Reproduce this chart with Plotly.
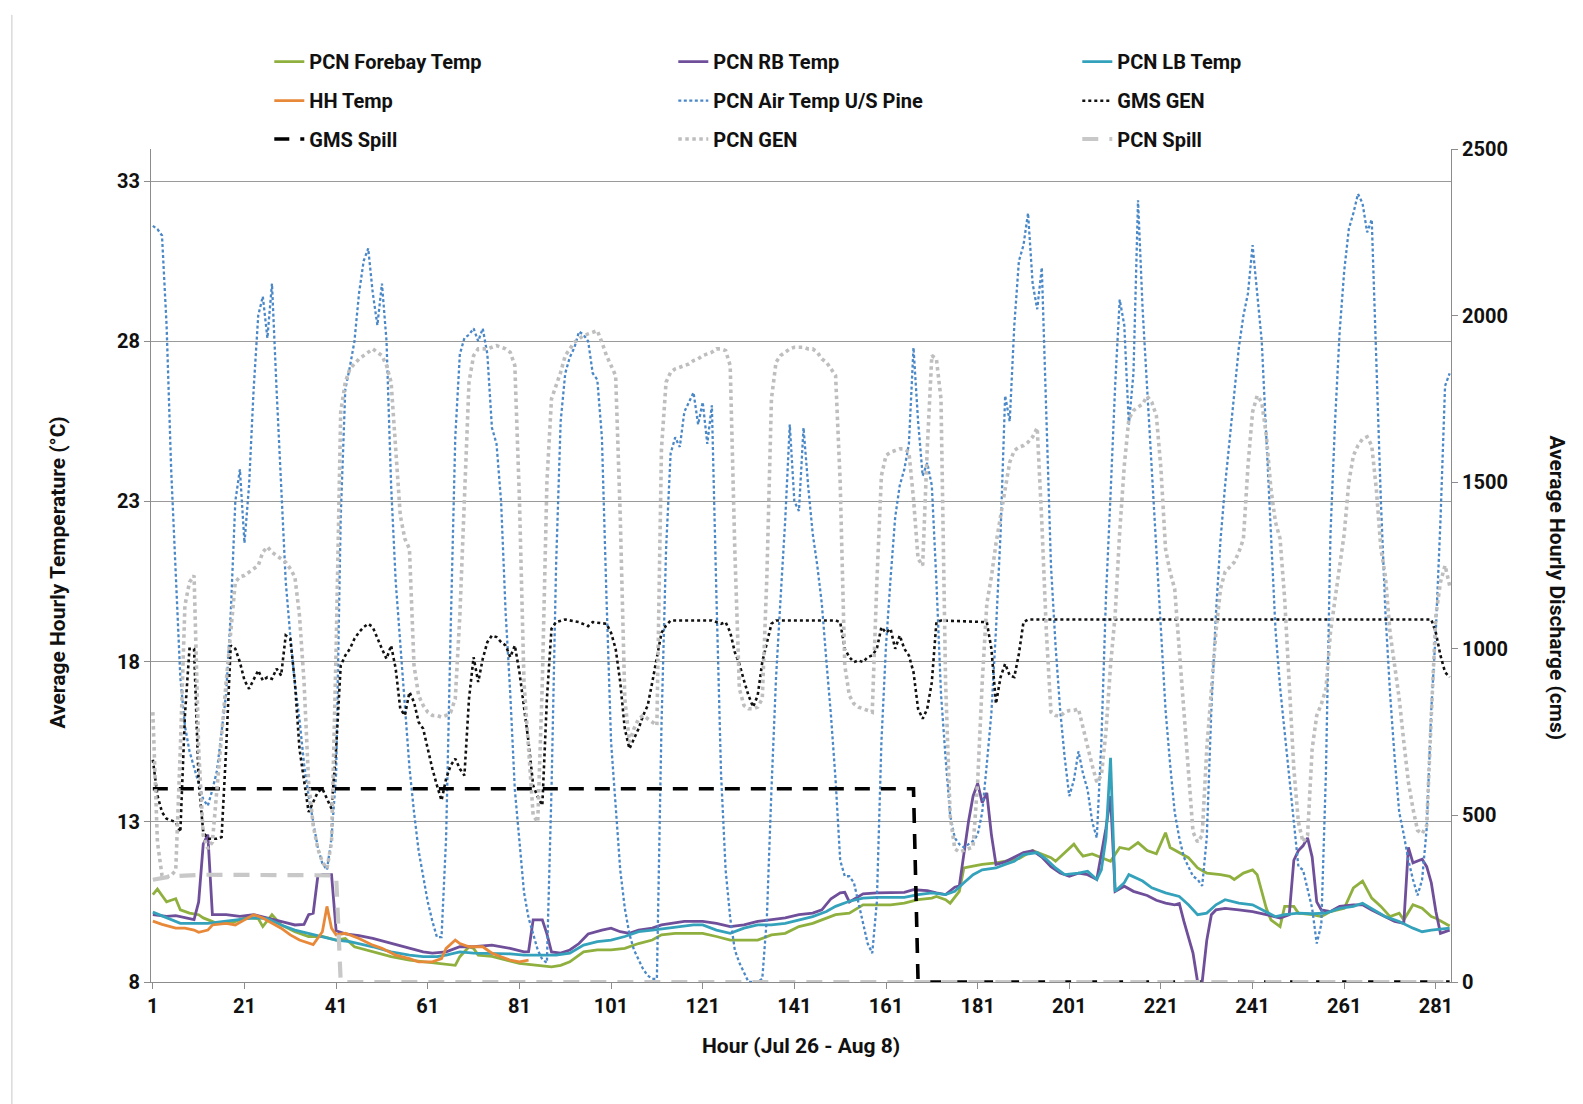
import plotly.graph_objects as go

# ---------------- data ----------------
hours = list(range(1, 285))

air_temp = [
    31.6, 31.5, 31.3, 28.5, 24.0, 20.5, 17.5, 16.0, 15.2, 14.7,
    14.2, 13.7, 13.5, 14.0, 14.6, 15.9, 17.0, 19.5, 23.0, 24.0,
    21.7, 23.5, 26.5, 28.8, 29.4, 28.1, 29.8, 26.5, 23.5, 20.5,
    18.8, 17.3, 16.2, 14.8, 13.8, 13.0, 12.2, 11.7, 11.5, 12.5,
    14.5, 22.5, 26.5, 27.2, 28.0, 29.5, 30.5, 30.9, 29.5, 28.5,
    29.8, 28.0, 23.5, 20.5, 18.5, 16.5, 14.7, 13.3, 12.1, 11.3,
    10.5, 9.9, 9.4, 9.4, 12.5, 19.0, 25.0, 27.6, 28.1, 28.2,
    28.4, 28.0, 28.4, 27.6, 25.3, 24.8, 23.0, 19.5, 17.0, 14.0,
    12.3, 10.8, 10.0, 9.5, 9.0, 8.7, 8.6, 14.0, 21.0, 25.5,
    27.0, 27.5, 27.8, 28.3, 28.2, 28.0, 27.0, 26.8, 25.0, 20.0,
    15.5, 13.5, 11.5, 10.3, 9.5, 9.0, 8.7, 8.4, 8.2, 8.1,
    8.1, 16.0, 21.5, 24.5, 25.0, 24.7, 25.8, 26.1, 26.4, 25.4,
    26.1, 24.8, 26.0, 20.0, 14.5, 11.5, 10.0, 9.0, 8.6, 8.3,
    8.0, 8.0, 8.0, 8.1, 10.0, 14.0, 17.5, 20.0, 22.4, 25.4,
    23.0, 22.7, 25.3, 23.5, 22.0, 21.0, 19.8, 18.0, 16.3, 14.3,
    11.8, 11.3, 11.3, 11.1, 10.5, 9.8, 9.2, 8.9, 10.5, 15.5,
    18.5, 20.6, 22.5, 23.5, 24.0, 24.8, 27.8, 25.5, 23.8, 24.2,
    23.5, 20.5, 17.0, 15.0, 13.2, 12.5, 12.3, 12.2, 12.3, 12.4,
    12.6, 13.3, 14.8, 16.4, 19.0, 22.0, 26.3, 25.5, 28.5, 30.5,
    31.0, 32.0, 29.8, 29.0, 30.3, 25.5, 21.0, 18.5, 16.5, 15.0,
    13.8, 14.3, 15.2, 14.5, 14.0, 13.0, 12.5, 15.5, 20.0, 23.2,
    26.6, 29.3, 28.5, 25.4, 27.0, 32.4, 29.0, 26.5, 24.0, 21.5,
    19.0, 16.5, 14.8, 13.3, 12.5, 11.9, 11.6, 11.3, 11.2, 11.0,
    12.5, 16.5, 19.5, 21.8, 23.5, 25.0, 26.4, 27.8, 28.8, 29.5,
    31.0, 29.5, 28.0, 25.0, 22.0, 19.0, 17.2, 15.8, 14.3, 12.8,
    11.6, 11.5, 10.9, 10.3, 9.2, 9.8, 14.5, 22.0, 25.5, 28.3,
    30.2, 31.5, 32.0, 32.6, 32.3, 31.4, 31.8, 27.5, 23.0, 19.5,
    17.0, 15.0, 13.3, 12.6, 11.8, 11.2, 10.7, 11.2, 12.8, 16.5,
    19.0, 22.4, 26.6, 27.0,
]

pcn_gen = [
    810, 420, 320, 315, 320, 335, 700, 1130, 1200, 1220,
    700, 440, 400, 420, 580, 750, 900, 1050, 1200, 1216,
    1220, 1230, 1240, 1250, 1290, 1306, 1290, 1280, 1270, 1260,
    1240, 1216, 1100, 900, 600, 470, 400, 360, 340, 420,
    1000, 1711, 1800, 1840, 1855, 1870, 1880, 1890, 1900, 1890,
    1880, 1850, 1800, 1600, 1400, 1330, 1300, 950, 860, 830,
    810, 800, 800, 795, 800, 810, 850, 1100, 1450, 1800,
    1880, 1900, 1900, 1900, 1905, 1910, 1905, 1900, 1890, 1850,
    1450, 900, 700, 500, 480, 900, 1500, 1750, 1790, 1830,
    1880, 1900, 1920, 1930, 1940, 1945, 1950, 1955, 1920, 1880,
    1850, 1820, 1400, 850, 720, 760, 790, 800, 790, 780,
    770, 1600, 1800, 1830, 1840, 1845, 1850, 1855, 1865, 1870,
    1880, 1885, 1890, 1900, 1900, 1895, 1850, 1300, 880, 830,
    820, 820, 825, 850, 1216, 1750, 1860, 1880, 1890, 1900,
    1905, 1905, 1905, 1900, 1900, 1890, 1870, 1860, 1840, 1820,
    1500, 950, 860, 835, 825, 820, 815, 810, 1200, 1520,
    1580, 1590, 1595, 1600, 1600, 1590, 1450, 1270, 1250, 1600,
    1880, 1870, 1750, 900, 500, 400, 390, 395, 400, 405,
    600, 900, 1135, 1216, 1316, 1400, 1480, 1560, 1595, 1605,
    1610, 1620, 1636, 1663, 1380, 1050, 810, 800, 798, 810,
    815, 815, 820, 760, 700, 650, 600, 620, 750, 950,
    1100, 1350, 1550, 1690, 1715, 1725, 1735, 1758, 1740, 1700,
    1540, 1300, 1230, 1180, 1000, 800, 640, 450, 420, 440,
    700, 880, 1050, 1180, 1231, 1245, 1260, 1290, 1330, 1550,
    1711, 1760, 1740, 1640, 1480, 1380, 1330, 1150, 900, 640,
    480, 420, 440, 700, 800, 834, 880, 1050, 1150, 1250,
    1345, 1500, 1580, 1610, 1630, 1636, 1610, 1480, 1300, 1216,
    1048, 950, 850, 721, 600, 520, 455, 445, 470, 800,
    1100, 1200, 1250, 1190,
]

gms_gen_hours = [
    1, 2, 3, 4, 5, 6, 7, 8, 9, 10, 11, 12, 13, 15, 16, 17, 18, 19, 20,
    21, 22, 23, 24, 25, 26, 27, 28, 29, 30, 31, 32, 33, 34, 35, 36, 37, 38, 39, 40,
    41, 42, 43, 44, 45, 46, 47, 48, 49, 50, 51, 52, 53, 54, 55, 56, 57, 58, 59, 60,
    61, 62, 63, 64, 65, 66, 67, 68, 69, 70, 71, 72, 73, 74, 75, 76, 77, 78, 79, 80,
    81, 82, 83, 84, 85, 86, 87, 88, 89, 91, 94, 96, 97, 100,
    101, 102, 103, 104, 105, 106, 107, 108, 109, 110, 111, 112, 113, 114,
    123, 124, 125, 126, 127, 128, 129, 130, 131, 132, 133, 134, 135, 136, 137,
    150, 151, 152, 153, 154, 155, 156, 157, 158, 159, 160,
    161, 162, 163, 164, 165, 166, 167, 168, 169, 170, 171, 172, 173,
    183, 184, 185, 186, 187, 188, 189, 190, 191, 192,
    280, 281, 282, 283, 284,
]
gms_gen = [
    667, 560, 510, 490, 485, 480, 450, 800, 1000, 1000, 600, 450, 430, 430, 435, 700, 1010, 1000, 960,
    905, 880, 910, 935, 905, 915, 910, 940, 920, 1040, 1030, 900, 700, 600, 510, 540, 570, 580, 550, 520,
    700, 950, 980, 1000, 1030, 1050, 1065, 1075, 1065, 1030, 1000, 970, 1010, 940, 820, 800, 870, 840, 780, 760,
    700, 640, 590, 545, 610, 650, 670, 640, 620, 850, 975, 900, 970, 1020, 1040, 1035, 1020, 1010, 975, 1010,
    930, 830, 720, 590, 555, 530, 850, 1060, 1080, 1088, 1080, 1068, 1080, 1075,
    1048, 1000, 900, 760, 700, 730, 760, 800, 830, 900, 975, 1048, 1070, 1085,
    1085, 1080, 1075, 1080, 1050, 990, 955, 905, 860, 825, 860, 960, 1020, 1075, 1085,
    1085, 1080, 1000, 975, 960, 965, 960, 975, 980, 1000, 1065,
    1048, 1060, 1000, 1040, 1000, 980, 930, 820, 790, 820, 900, 1080, 1085,
    1080, 1000, 835, 915, 955, 920, 915, 985, 1080, 1088,
    1088, 1048, 980, 930, 915,
]

gms_spill_hours = [1, 167, 168, 284]
gms_spill = [580, 580, 0, 0]

pcn_spill_hours = [1, 5, 12, 40, 41, 42, 284]
pcn_spill = [307, 317, 322, 322, 320, 0, 0]

forebay_hours = [
    1, 2, 3, 4, 5, 6, 7, 9, 11, 12, 15, 18, 21, 24, 25, 27, 29, 32, 35, 38,
    41, 43, 45, 49, 53, 57, 60, 64, 67, 68, 70, 71, 72, 75, 78, 81, 85, 88, 90, 92,
    95, 98, 101, 104, 107, 110, 112, 115, 118, 121, 124, 127, 130, 133, 136, 139, 142, 145, 147, 150,
    153, 156, 159, 162, 165, 168, 171, 172, 174, 175, 177, 178, 180, 182, 185, 188, 190, 193, 194, 197,
    198, 200, 202, 203, 204, 206, 208, 210, 212, 214, 216, 218, 220, 222, 223, 225, 227, 229, 231, 234,
    236, 237, 239, 241, 242, 244, 245, 247, 248, 250, 251, 254, 256, 258, 261, 263, 265, 267, 269, 271,
    273, 274, 276, 278, 280, 281, 284,
]
forebay_temp = [
    10.73, 10.9, 10.7, 10.5, 10.55, 10.6, 10.25, 10.15, 10.1, 10.0, 9.83, 9.83, 10.0, 9.98, 9.73, 10.1, 9.78, 9.57, 9.42, 9.42,
    9.31, 9.36, 9.1, 8.94, 8.79, 8.68, 8.63, 8.58, 8.52, 8.79, 9.1, 9.05, 8.84, 8.8, 8.68, 8.58, 8.52, 8.47, 8.52, 8.63,
    8.94, 9.0, 9.0, 9.05, 9.2, 9.31, 9.47, 9.52, 9.52, 9.52, 9.42, 9.31, 9.31, 9.31, 9.47, 9.52, 9.73, 9.83, 9.94, 10.1,
    10.15, 10.41, 10.41, 10.41, 10.46, 10.57, 10.62, 10.67, 10.57, 10.46, 10.83, 11.56, 11.62, 11.67, 11.72, 11.8, 11.85, 12.1, 12.04, 11.88,
    11.77, 12.04, 12.3, 12.1, 11.93, 12.0, 11.88, 11.77, 12.2, 12.14, 12.35, 12.1, 12.0, 12.66, 12.2, 12.04, 11.88, 11.56, 11.4, 11.35,
    11.3, 11.2, 11.4, 11.5, 11.35, 10.3, 9.94, 9.73, 10.36, 10.36, 10.15, 10.1, 10.04, 10.2, 10.3, 10.94, 11.15, 10.62, 10.36, 10.04,
    10.15, 9.94, 10.41, 10.3, 10.04, 9.99, 9.75,
]

rb_hours = [
    1, 4, 6, 10, 11, 12, 13, 14, 17, 20, 23, 26, 28, 30, 32, 34, 35, 36, 37, 38,
    40, 41, 43, 46, 49, 53, 57, 60, 62, 65, 68, 71, 75, 77, 79, 82, 83, 84, 86, 87,
    88, 90, 92, 94, 96, 99, 101, 103, 105, 107, 110, 112, 114, 117, 121, 124, 127, 130, 133, 136,
    139, 142, 145, 147, 149, 151, 152, 153, 155, 156, 159, 162, 165, 167, 170, 172, 174, 176, 177, 178,
    179, 180, 181, 182, 183, 184, 185, 187, 189, 191, 193, 195, 197, 199, 201, 203, 205, 207, 209, 210,
    211, 213, 215, 218, 220, 222, 224, 225, 226, 228, 229, 230, 231, 232, 233, 235, 238, 241, 244, 247,
    249, 250, 251, 252, 253, 254, 255, 256, 258, 260, 263, 265, 267, 270, 272, 274, 275, 276, 278, 279,
    280, 281, 282, 284,
]
rb_temp = [
    10.1, 10.05, 10.07, 9.95, 10.5, 12.3, 12.6, 10.1, 10.1, 10.05, 10.1, 10.0, 9.94, 9.85, 9.78, 9.8, 10.1, 10.15, 11.3, 11.35,
    11.35, 9.6, 9.5, 9.45, 9.36, 9.2, 9.05, 8.94, 8.9, 8.94, 9.1, 9.1, 9.15, 9.1, 9.05, 8.94, 8.95, 9.94, 9.94, 9.5,
    8.94, 8.9, 9.0, 9.2, 9.5, 9.62, 9.68, 9.57, 9.52, 9.62, 9.68, 9.78, 9.83, 9.89, 9.89, 9.83, 9.73, 9.78, 9.89, 9.94,
    10.0, 10.1, 10.15, 10.25, 10.6, 10.78, 10.8, 10.5, 10.66, 10.75, 10.78, 10.78, 10.8, 10.88, 10.85, 10.78, 10.73, 10.96, 11.0, 12.0,
    13.0, 13.8, 14.2, 13.6, 13.9, 12.6, 11.67, 11.75, 11.9, 12.04, 12.1, 11.9, 11.6, 11.4, 11.3, 11.4, 11.35, 11.2, 12.8, 13.8,
    10.83, 10.99, 10.83, 10.7, 10.55, 10.46, 10.41, 10.45, 9.9, 8.9, 8.0, 8.0, 9.3, 10.1, 10.25, 10.3, 10.25, 10.2, 10.1, 10.0,
    10.1, 11.8, 12.1, 12.25, 12.5, 11.9, 10.5, 10.25, 10.2, 10.36, 10.41, 10.41, 10.25, 10.04, 9.89, 9.83, 12.2, 11.72, 11.83, 11.6,
    11.1, 10.2, 9.52, 9.62,
]

lb_hours = [
    1, 4, 7, 9, 13, 17, 20, 23, 26, 29, 32, 35, 38, 41, 44, 46, 49, 53, 57, 60,
    63, 65, 68, 71, 75, 79, 82, 86, 89, 92, 95, 98, 101, 104, 107, 110, 113, 116, 119, 121,
    124, 127, 130, 133, 136, 139, 142, 145, 148, 150, 153, 156, 159, 165, 168, 171, 174, 176, 178, 180,
    182, 185, 187, 189, 191, 194, 196, 198, 200, 203, 205, 207, 208, 209, 210, 211, 213, 214, 217, 219,
    222, 225, 227, 229, 231, 233, 235, 238, 241, 244, 246, 248, 251, 254, 257, 260, 263, 265, 267, 270,
    273, 276, 278, 280, 284,
]
lb_temp = [
    10.18, 10.0, 9.83, 9.83, 9.83, 9.9, 9.94, 10.0, 9.98, 9.78, 9.62, 9.52, 9.42, 9.31, 9.26, 9.2, 9.1, 8.94, 8.84, 8.79,
    8.79, 8.84, 8.94, 8.9, 8.9, 8.88, 8.84, 8.84, 8.84, 8.9, 9.15, 9.26, 9.31, 9.42, 9.57, 9.62, 9.68, 9.73, 9.78, 9.78,
    9.62, 9.52, 9.68, 9.78, 9.78, 9.83, 9.94, 10.04, 10.2, 10.36, 10.52, 10.62, 10.64, 10.64, 10.73, 10.78, 10.73, 10.83, 11.1, 11.35,
    11.5, 11.56, 11.67, 11.77, 11.98, 12.04, 11.83, 11.56, 11.35, 11.4, 11.46, 11.2, 11.5, 12.5, 15.0, 10.83, 11.1, 11.35, 11.15, 10.94,
    10.78, 10.67, 10.41, 10.1, 10.15, 10.41, 10.57, 10.46, 10.41, 10.2, 10.04, 10.1, 10.15, 10.13, 10.15, 10.3, 10.36, 10.46, 10.3, 10.04,
    9.89, 9.68, 9.57, 9.62, 9.68,
]

hh_hours = [
    1, 3, 6, 8, 10, 11, 13, 14, 17, 19, 21, 23, 25, 27, 29, 31, 33, 36, 38, 39,
    40, 41, 43, 46, 49, 51, 54, 57, 59, 62, 64, 65, 67, 68, 70, 73, 75, 77, 79, 81,
    83,
]
hh_temp = [
    9.9, 9.8, 9.68, 9.68, 9.62, 9.55, 9.62, 9.78, 9.83, 9.78, 9.94, 10.1, 10.0, 9.83, 9.68, 9.47, 9.31, 9.17, 9.57, 10.36,
    9.68, 9.47, 9.52, 9.36, 9.15, 9.05, 8.84, 8.73, 8.63, 8.63, 8.73, 9.05, 9.31, 9.2, 9.1, 9.1, 8.9, 8.79, 8.68, 8.63,
    8.68,
]

x_tick_vals = [1, 21, 41, 61, 81, 101, 121, 141, 161, 181, 201, 221, 241, 261, 281]
temp_ticks = [8, 13, 18, 23, 28, 33]
flow_ticks = [0, 500, 1000, 1500, 2000, 2500]

# ---------------- styling ----------------
FONT = "Roboto, Liberation Sans, DejaVu Sans, sans-serif"
GREEN = "#8FB03E"
PURPLE = "#6F4F9A"
TEAL = "#35A2BC"
ORANGE = "#E8893A"
BLUE = "#4A88C7"
GRAY = "#BEBEBE"
GRAY_SPILL = "#C8C8C8"

fig = go.Figure()

def add(x, y, name, color, width, dash, axis, legend):
    fig.add_trace(go.Scatter(
        x=x, y=y, name=name, mode="lines",
        line=dict(color=color, width=width, dash=dash),
        yaxis=axis, legend=legend, hoverinfo="skip",
    ))

add(forebay_hours, forebay_temp, "PCN Forebay Temp", GREEN, 2.8, "solid", "y", "legend")
add(rb_hours, rb_temp, "PCN RB Temp", PURPLE, 2.8, "solid", "y", "legend")
add(lb_hours, lb_temp, "PCN LB Temp", TEAL, 2.8, "solid", "y", "legend")
add(hh_hours, hh_temp, "HH Temp", ORANGE, 2.8, "solid", "y", "legend2")
add(hours, air_temp, "PCN Air Temp U/S Pine", BLUE, 2.3, "3px,2.5px", "y", "legend2")
add(gms_gen_hours, gms_gen, "GMS GEN", "#111111", 2.6, "3px,3px", "y2", "legend2")
add(gms_spill_hours, gms_spill, "GMS Spill", "#000000", 3.6, "15px,11px", "y2", "legend3")
add(hours, pcn_gen, "PCN GEN", GRAY, 3.6, "3.5px,3.5px", "y2", "legend3")
add(pcn_spill_hours, pcn_spill, "PCN Spill", GRAY_SPILL, 4.2, "16px,11px", "y2", "legend3")

leg_common = dict(
    orientation="h", xanchor="left", yanchor="middle", x=0.091,
    entrywidth=359, entrywidthmode="pixels",
    font=dict(family=FONT, size=20, color="#111111", weight="bold"),
    bgcolor="rgba(0,0,0,0)", borderwidth=0,
)

axis_font = dict(family=FONT, size=20, color="#111111", weight="bold")
title_font = dict(family=FONT, size=21, color="#111111", weight="bold")

fig.update_layout(
    width=1583, height=1104,
    margin=dict(l=151, r=132, t=149, b=122),
    paper_bgcolor="white", plot_bgcolor="white",
    legend=dict(leg_common, y=1.105),
    legend2=dict(leg_common, y=1.058),
    legend3=dict(leg_common, y=1.012),
    xaxis=dict(
        range=[0.6, 284.3], tickmode="array", tickvals=x_tick_vals,
        showgrid=False, zeroline=False, showline=True, linecolor="#8C8C8C", linewidth=1,
        ticks="outside", ticklen=6, tickcolor="#8C8C8C", tickfont=axis_font,
    ),
    yaxis=dict(
        range=[8, 34], tickmode="array", tickvals=temp_ticks,
        showgrid=True, gridcolor="#9A9A9A", gridwidth=1, zeroline=False,
        showline=True, linecolor="#8C8C8C", linewidth=1,
        ticks="outside", ticklen=6, tickcolor="#8C8C8C", tickfont=axis_font,
    ),
    yaxis2=dict(
        range=[0, 2500], tickmode="array", tickvals=flow_ticks,
        overlaying="y", side="right", showgrid=False, zeroline=False,
        showline=True, linecolor="#8C8C8C", linewidth=1,
        ticks="outside", ticklen=6, tickcolor="#8C8C8C", tickfont=axis_font,
    ),
    annotations=[
        dict(text="Hour (Jul 26 - Aug 8)", xref="paper", yref="paper", x=0.5, y=-0.094,
             showarrow=False, font=title_font),
        dict(text="Average Hourly Temperature (°C)", xref="paper", yref="paper", x=-0.082, y=0.492,
             textangle=-90, showarrow=False, font=title_font),
        dict(text="Average Hourly Discharge (cms)", xref="paper", yref="paper", x=1.092, y=0.473,
             textangle=90, showarrow=False, font=title_font),
    ],
    shapes=[
        dict(type="line", xref="paper", yref="paper", x0=-0.107, x1=-0.107, y0=1.161, y1=-0.147,
             line=dict(color="#C8C8C8", width=1)),
    ],
)

fig.write_html("out.html")
